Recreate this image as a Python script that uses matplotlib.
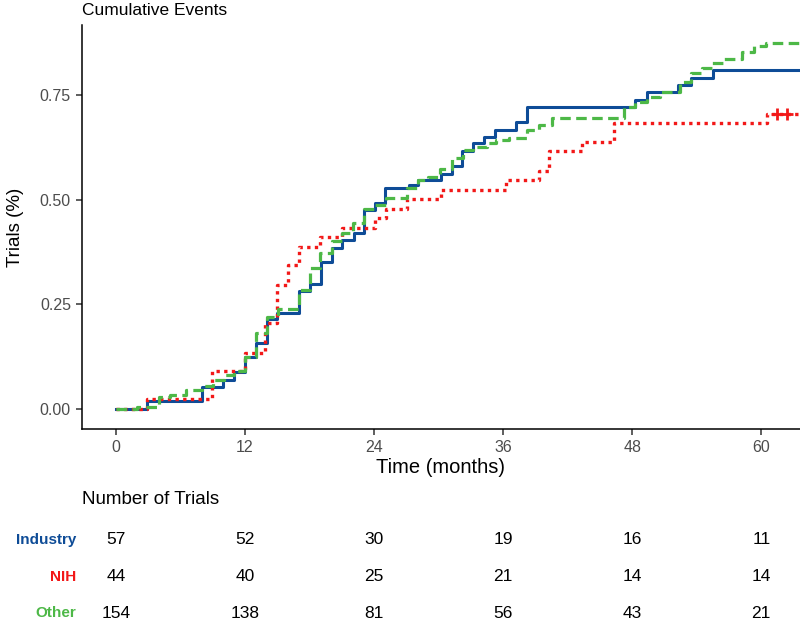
import matplotlib
matplotlib.use("Agg")
import matplotlib.pyplot as plt

plt.rcParams['font.family'] = ['Liberation Sans', 'DejaVu Sans']

groups = ['Industry', 'NIH', 'Other']
colors = ['#0E4C97', '#F21818', '#4DB847']

# step times (months) and cumulative event proportion
industry_t = [0, 2.85, 8.0, 9.95, 11.0, 12.0, 13.0, 14.0, 15.0, 17.05, 18.05, 19.05,
              20.1, 21.05, 22.1, 23.1, 24.1, 25.05, 27.2, 28.1, 30.2, 31.2, 32.2,
              33.2, 34.2, 35.2, 37.2, 38.2, 48.3, 49.4, 52.3, 53.5, 55.5]
industry_y = [0, 0.018, 0.053, 0.070, 0.088, 0.123, 0.158, 0.214, 0.230, 0.281, 0.298, 0.351,
              0.384, 0.403, 0.421, 0.475, 0.493, 0.527, 0.536, 0.547, 0.560, 0.580, 0.615,
              0.634, 0.650, 0.667, 0.686, 0.721, 0.738, 0.756, 0.774, 0.791, 0.810]

nih_t = [0, 2.9, 8.9, 12.0, 13.9, 15.0, 16.0, 17.05, 19.0, 21.0, 24.1, 25.1, 27.1,
         30.2, 36.3, 39.3, 40.3, 43.3, 46.3, 60.5]
nih_y = [0, 0.023, 0.091, 0.134, 0.205, 0.297, 0.343, 0.387, 0.410, 0.433, 0.455, 0.478, 0.502,
         0.524, 0.547, 0.569, 0.615, 0.637, 0.684, 0.705]
nih_censor_t = [61.5, 62.4]

other_t = [0, 2.0, 4.0, 5.0, 6.5, 8.0, 9.0, 10.0, 11.0, 12.0, 13.0, 14.0, 15.1, 17.0, 18.0,
           19.0, 20.1, 21.0, 22.0, 23.1, 24.1, 25.1, 27.1, 28.1, 29.0, 30.1, 31.2, 32.3,
           33.2, 34.5, 35.3, 36.5, 38.2, 39.3, 40.5, 47.2, 48.3, 49.4, 50.6, 52.4, 53.5,
           54.5, 55.4, 56.5, 58.2, 59.3, 60.4]
other_y = [0, 0.005, 0.028, 0.033, 0.044, 0.055, 0.069, 0.081, 0.091, 0.125, 0.181, 0.220,
           0.238, 0.284, 0.336, 0.372, 0.400, 0.420, 0.443, 0.477, 0.487, 0.503, 0.527,
           0.547, 0.553, 0.572, 0.599, 0.618, 0.626, 0.635, 0.642, 0.647, 0.666, 0.678,
           0.694, 0.720, 0.734, 0.746, 0.756, 0.782, 0.802, 0.814, 0.826, 0.835, 0.853,
           0.867, 0.873]

risk_times = [0, 12, 24, 36, 48, 60]
industry_n = [57, 52, 30, 19, 16, 11]
nih_n = [44, 40, 25, 21, 14, 14]
other_n = [154, 138, 81, 56, 43, 21]

x_end = 63.6

fig = plt.figure(figsize=(8, 6.21), dpi=100)
ax = fig.add_axes([82 / 800, 192 / 621, 718 / 800, 404 / 621])

styles = [dict(linestyle='-', lw=2.2),
          dict(linestyle=(0, (1, 1.3)), lw=2.4, dash_capstyle='butt'),
          dict(linestyle=(0, (3.3, 1.7)), lw=2.3, dash_capstyle='butt')]
data = [(industry_t, industry_y), (nih_t, nih_y), (other_t, other_y)]
for (t, y), col, st in zip(data, colors, styles):
    ax.step(list(t) + [x_end], list(y) + [y[-1]], where='post', color=col, **st)

ax.plot(nih_censor_t, [nih_y[-1]] * len(nih_censor_t), linestyle='none', marker='+',
        color=colors[1], markersize=9, markeredgewidth=2)

ax.set_xlim(-3.16, x_end)
ax.set_ylim(-0.048, 0.917)
ax.set_xticks(risk_times)
ax.set_yticks([0, 0.25, 0.5, 0.75])
ax.set_yticklabels(['0.00', '0.25', '0.50', '0.75'])
for s in ['top', 'right']:
    ax.spines[s].set_visible(False)
for s in ['left', 'bottom']:
    ax.spines[s].set_linewidth(1.1)
ax.tick_params(axis='both', length=4, width=1.1, color='#333333', labelcolor='#4D4D4D',
               labelsize=11.5, pad=4)
ax.set_xlabel('Time (months)', fontsize=14.5, labelpad=2)
ax.set_ylabel('Trials (%)', fontsize=13.5, labelpad=11)
ax.set_title('Cumulative Events', loc='left', fontsize=12.5, pad=7.5)

# number at risk table
fig.text(82 / 800, 1 - 500 / 621, 'Number of Trials', fontsize=13.5, va='center', ha='left')
tab = fig.add_axes([82 / 800, 0, 718 / 800, 99 / 621])
tab.set_xlim(-3.16, x_end)
tab.set_ylim(2.219, -0.493)
tab.axis('off')
for i, (name, col, counts) in enumerate(zip(groups, colors, [industry_n, nih_n, other_n])):
    tab.text(-3.72, i, name, color=col, fontweight='bold', fontsize=11,
             ha='right', va='center', clip_on=False)
    for tt, n in zip(risk_times, counts):
        tab.text(tt, i, str(n), fontsize=12.5, ha='center', va='center', clip_on=False)

fig.savefig('out.png', dpi=100)
